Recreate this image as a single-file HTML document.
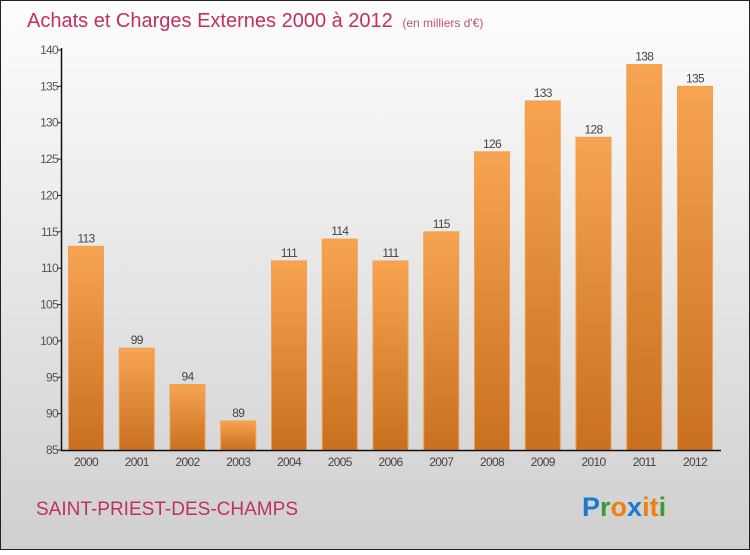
<!DOCTYPE html>
<html><head><meta charset="utf-8"><style>
html,body{margin:0;padding:0}
body{width:750px;height:550px;overflow:hidden;font-family:"Liberation Sans",sans-serif}
</style></head><body>
<svg id="c" width="750" height="550" xmlns="http://www.w3.org/2000/svg">
<defs>
<linearGradient id="bg" x1="0" y1="0" x2="0" y2="1"><stop offset="0" stop-color="#fdfdfd"/><stop offset="1" stop-color="#cfcfcf"/></linearGradient>
<linearGradient id="bar" x1="0" y1="0" x2="0" y2="1"><stop offset="0" stop-color="#f7a452"/><stop offset="1" stop-color="#c8701f"/></linearGradient>
</defs>
<rect x="0.5" y="0.5" width="749" height="549" fill="url(#bg)" stroke="#222"/>
<text x="27" y="27" font-size="20" fill="#c0305e">Achats et Charges Externes 2000 à 2012 <tspan font-size="12" fill="#c0507a" dx="4">(en milliers d'€)</tspan></text>
<text x="36" y="515" font-size="19" fill="#c0305e" textLength="262">SAINT-PRIEST-DES-CHAMPS</text>
<g font-size="27" font-weight="bold" font-family="Liberation Sans, sans-serif">
<text x="582" y="516"><tspan fill="#1a7ad0">P</tspan><tspan fill="#3a9a3a">r</tspan><tspan fill="#f08010">o</tspan><tspan fill="#1a7ad0">x</tspan><tspan fill="#f08010">i</tspan><tspan fill="#f08010">t</tspan><tspan fill="#3a9a3a">i</tspan></text>
</g>
<g id="plot"></g>
</svg>
<script>
const years=["2000","2001","2002","2003","2004","2005","2006","2007","2008","2009","2010","2011","2012"];
const values=[113,99,94,89,111,114,111,115,126,133,128,138,135];
const yTicks=[85,90,95,100,105,110,115,120,125,130,135,140];
const NS="http://www.w3.org/2000/svg";
const g=document.getElementById('plot');
const y0=450,y1=50,vmin=85,vmax=140;
function Y(v){return y0-(v-vmin)/(vmax-vmin)*(y0-y1);}
function X(i){return 68+i*50.75;}
const bw=36;
function el(t,a){const e=document.createElementNS(NS,t);for(const k in a)e.setAttribute(k,a[k]);g.appendChild(e);return e;}
yTicks.forEach(t=>{
 const l=el('line',{x1:57,x2:62,y1:Y(t),y2:Y(t),stroke:'#222'});
 
 
 const tx=el('text',{x:58,y:Y(t)+4,'font-size':12,fill:'#555','text-anchor':'end','letter-spacing':'-0.7'});
 tx.textContent=t;
 
 
});
values.forEach((v,i)=>{
 const r=el('rect',{x:X(i)+0.5,y:Y(v),width:bw-1,height:y0-Y(v),fill:'url(#bar)',stroke:'#f0a050','stroke-width':1});
 
 
 const lb=el('text',{x:X(i)+bw/2,y:Y(v)-4,'font-size':12,fill:'#444','text-anchor':'middle','letter-spacing':'-0.7'});
 lb.textContent=v;
 
 
 const xl=el('text',{x:X(i)+bw/2,y:466,'font-size':12,fill:'#444','text-anchor':'middle','letter-spacing':'-0.7'});
 xl.textContent=years[i];
 
 
});
const ya=el('line',{x1:61.5,x2:61.5,y1:48,y2:450,stroke:'#111','stroke-width':1.5});


const xa=el('line',{x1:61,x2:721,y1:450.5,y2:450.5,stroke:'#111','stroke-width':1.5});


</script>
</body></html>
